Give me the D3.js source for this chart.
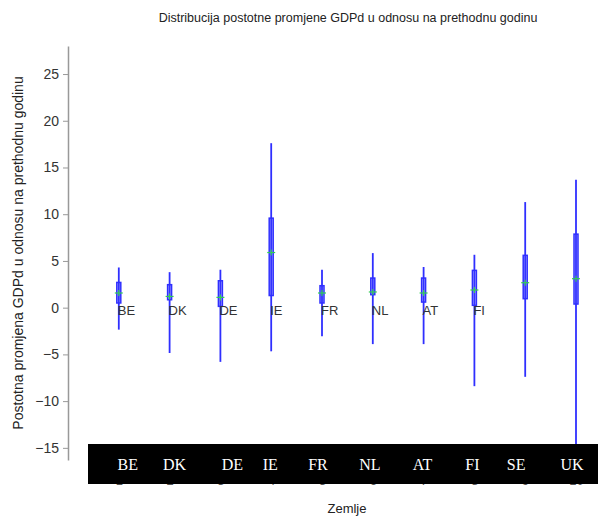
<!DOCTYPE html>
<html>
<head>
<meta charset="utf-8">
<script src="https://cdn.jsdelivr.net/npm/d3@7/dist/d3.min.js"></script>
<style>
  html, body { margin: 0; padding: 0; background: #fff; }
  svg { display: block; }
</style>
</head>
<body>
<svg id="chart" width="598" height="517"></svg>
<script>
const countries   = ["BE","DK","DE","IE","FR","NL","AT","FI","SE","UK"];
const xIndex      = [1,2,3,4,5,6,7,8,9,10];
const whiskerHigh = [4.3, 3.8, 4.06, 17.6, 4.06, 5.84, 4.35, 5.66, 11.3, 13.7];
const whiskerLow  = [-2.35, -4.85, -5.8, -4.67, -3.06, -3.9, -3.9, -8.4, -7.4, -16.3];
const boxHigh     = [2.7, 2.46, 2.88, 9.58, 2.35, 3.17, 3.17, 3.99, 5.6, 7.87];
const boxLow      = [0.5, 0.85, 0.14, 1.3, 0.5, 1.39, 0.6, 0.25, 0.96, 0.39];
const means       = [1.57, 1.2, 1.1, 5.9, 1.57, 1.68, 1.57, 1.89, 2.67, 3.1];
const yTicks      = [-15, -10, -5, 0, 5, 10, 15, 20, 25];
const xTicks      = [1,2,3,4,5,6,7,8,9,10];

const titleText = "Distribucija postotne promjene GDPd u odnosu na prethodnu godinu";
const yLabel = "Postotna promjena GDPd u odnosu na prethodnu godinu";
const xLabel = "Zemlje";

const svg = d3.select("#chart");
const font = "'Liberation Sans', Arial, sans-serif";

const x = d3.scaleLinear().domain([0, 11]).range([68, 626.8]);
const y = d3.scaleLinear().domain([-16.3, 28]).range([460, 46]);

const data = countries.map((c, i) => ({
  c, xi: xIndex[i], hi: whiskerHigh[i], lo: whiskerLow[i],
  bh: boxHigh[i], bl: boxLow[i], m: means[i]
}));

// title
svg.append("text").attr("x", 348).attr("y", 22).attr("text-anchor", "middle")
  .attr("font-family", font).attr("font-size", 12.5).attr("fill", "#222")
  .text(titleText);

// y axis
const yAxis = d3.axisLeft(y).tickValues(yTicks).tickSize(5).tickPadding(4).tickSizeOuter(0);
const gy = svg.append("g").attr("transform", "translate(68,0)").call(yAxis);
gy.select(".domain").attr("stroke", "#999").attr("stroke-width", 1.5);
gy.selectAll(".tick line").attr("stroke", "#999");
gy.selectAll(".tick text").attr("font-family", font).attr("font-size", 14).attr("fill", "#333");

// x axis (mostly hidden behind label strip)
const xAxis = d3.axisBottom(x).tickValues(xTicks).tickSize(0).tickPadding(0).tickFormat(d3.format("d"));
const gx = svg.append("g").attr("transform", "translate(0,476)").call(xAxis);
gx.select(".domain").remove();
gx.selectAll(".tick text").attr("font-family", font).attr("font-size", 13).attr("fill", "#555")
  .attr("dy", "0.71em").attr("y", 0);

// y label
svg.append("text").attr("transform", "translate(23,253) rotate(-90)")
  .attr("text-anchor", "middle").attr("font-family", font).attr("font-size", 14)
  .attr("fill", "#222").text(yLabel);

// x label
svg.append("text").attr("x", 347).attr("y", 513).attr("text-anchor", "middle")
  .attr("font-family", font).attr("font-size", 13).attr("fill", "#222").text(xLabel);

// boxplots
const blue = "#2f2fff";
const g = svg.append("g");
g.selectAll("line.wh").data(data).enter().append("line")
  .attr("x1", d => x(d.xi)).attr("x2", d => x(d.xi))
  .attr("y1", d => y(d.hi)).attr("y2", d => y(d.lo))
  .attr("stroke", blue).attr("stroke-width", 1.8);
g.selectAll("rect.box").data(data).enter().append("rect")
  .attr("x", d => x(d.xi) - 2).attr("width", 4)
  .attr("y", d => y(d.bh)).attr("height", d => y(d.bl) - y(d.bh))
  .attr("fill", "rgba(60,60,255,0.35)").attr("stroke", blue).attr("stroke-width", 1.5);

// mean markers
const green = "#33cc55";
g.selectAll("line.mh").data(data).enter().append("line")
  .attr("x1", d => x(d.xi) - 4).attr("x2", d => x(d.xi) + 4)
  .attr("y1", d => y(d.m)).attr("y2", d => y(d.m))
  .attr("stroke", green).attr("stroke-width", 1.2);
g.selectAll("line.mv").data(data).enter().append("line")
  .attr("x1", d => x(d.xi)).attr("x2", d => x(d.xi))
  .attr("y1", d => y(d.m) - 3).attr("y2", d => y(d.m) + 3)
  .attr("stroke", green).attr("stroke-width", 1.2);

// in-plot labels
g.selectAll("text.lab").data(data.filter(d => d.c !== "SE" && d.c !== "UK")).enter().append("text")
  .attr("x", d => x(d.xi) - 1).attr("y", y(0) + 7)
  .attr("font-family", font).attr("font-size", 13).attr("fill", "#333")
  .text(d => d.c);

// black label strip overlay
svg.append("rect").attr("x", 88).attr("y", 444).attr("width", 510).attr("height", 40).attr("fill", "#000");
const stripOffsets = [9, 5, 12, -1, -4, -3, -1, -2, -9, -4];
svg.selectAll("text.strip").data(data).enter().append("text")
  .attr("x", (d, i) => x(d.xi) + stripOffsets[i]).attr("y", 470)
  .attr("text-anchor", "middle").attr("font-family", "'Liberation Serif', 'Times New Roman', serif")
  .attr("font-size", 16).attr("fill", "#fff").text(d => d.c);
</script>
</body>
</html>
